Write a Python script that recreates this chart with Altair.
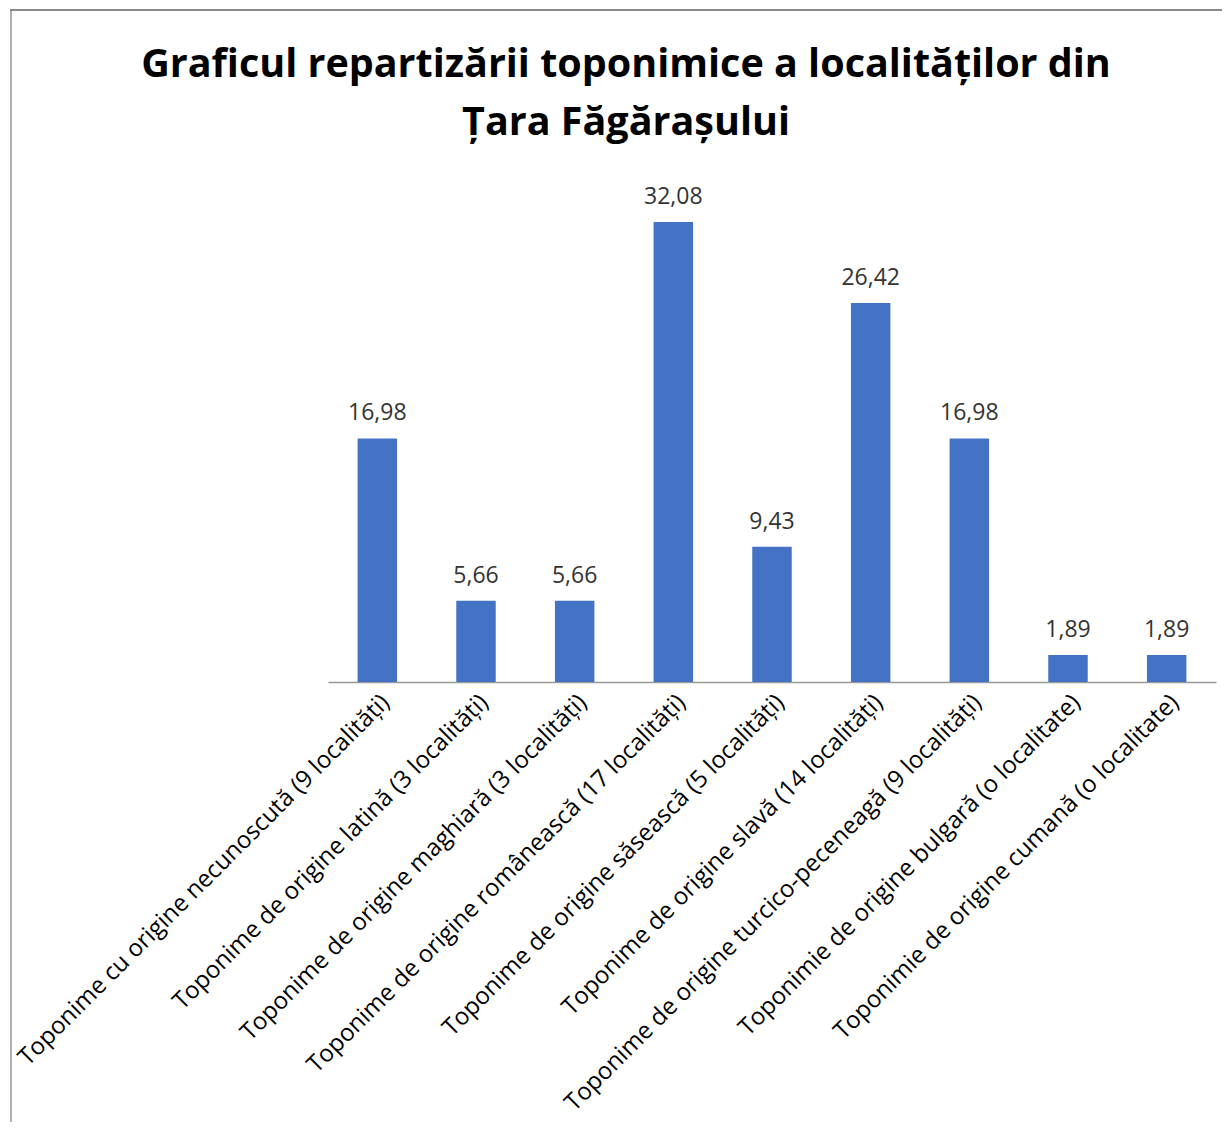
import altair as alt
import pandas as pd

categories = [
    "Toponime cu origine necunoscută (9 localități)",
    "Toponime de origine latină (3 localități)",
    "Toponime de origine maghiară (3 localități)",
    "Toponime de origine românească (17 localități)",
    "Toponime de origine săsească (5 localități)",
    "Toponime de origine slavă (14 localități)",
    "Toponime de origine turcico-peceneagă (9 localități)",
    "Toponimie de origine bulgară (o localitate)",
    "Toponimie de origine cumană (o localitate)",
]
values = [16.98, 5.66, 5.66, 32.08, 9.43, 26.42, 16.98, 1.89, 1.89]
labels = ["16,98", "5,66", "5,66", "32,08", "9,43", "26,42", "16,98", "1,89", "1,89"]

df = pd.DataFrame({"cat": categories, "val": values, "lab": labels})

x = alt.X("cat:N", sort=categories, title=None,
          scale=alt.Scale(paddingInner=0.6, paddingOuter=0.3),
          axis=alt.Axis(labelAngle=-45, labelFont="Open Sans", labelFontSize=24,
                        labelColor="#000000", labelLimit=900, ticks=False,
                        domainColor="#999999", domainWidth=1.5, labelPadding=8))
y = alt.Y("val:Q", scale=alt.Scale(domain=[0, 35]), axis=None)

bars = alt.Chart(df).mark_bar(color="#4472C4").encode(x=x, y=y)
text = alt.Chart(df).mark_text(dy=-13, font="Open Sans", fontSize=23, color="#333333",
                               baseline="bottom").encode(
    x=alt.X("cat:N", sort=categories), y="val:Q", text="lab:N")

# chart frame (left and top border of the chart area)
frame_left = alt.Chart(df).mark_rule(color="#B0B0B0", strokeWidth=2).encode(
    x=alt.value(-317), y=alt.value(-171), y2=alt.value(952))
frame_top = alt.Chart(df).mark_rule(color="#8A8A8A", strokeWidth=2).encode(
    x=alt.value(-318), x2=alt.value(902), y=alt.value(-170))

chart = (frame_left + frame_top + bars + text).properties(
    width=888, height=502,
    autosize=alt.AutoSizeParams(type="none"),
    title=alt.Title(["Graficul repartizării toponimice a localităților din", "Țara Făgărașului"],
                    font="Open Sans", fontSize=39.5, fontWeight="bold", color="#000000",
                    anchor="middle", frame="bounds", lineHeight=58, offset=-135, dx=6),
    padding={"left": 320, "right": 6, "top": 172, "bottom": 440},
).configure_view(stroke=None)

chart.save("out.html", embed_options={"renderer": "svg", "actions": False})
